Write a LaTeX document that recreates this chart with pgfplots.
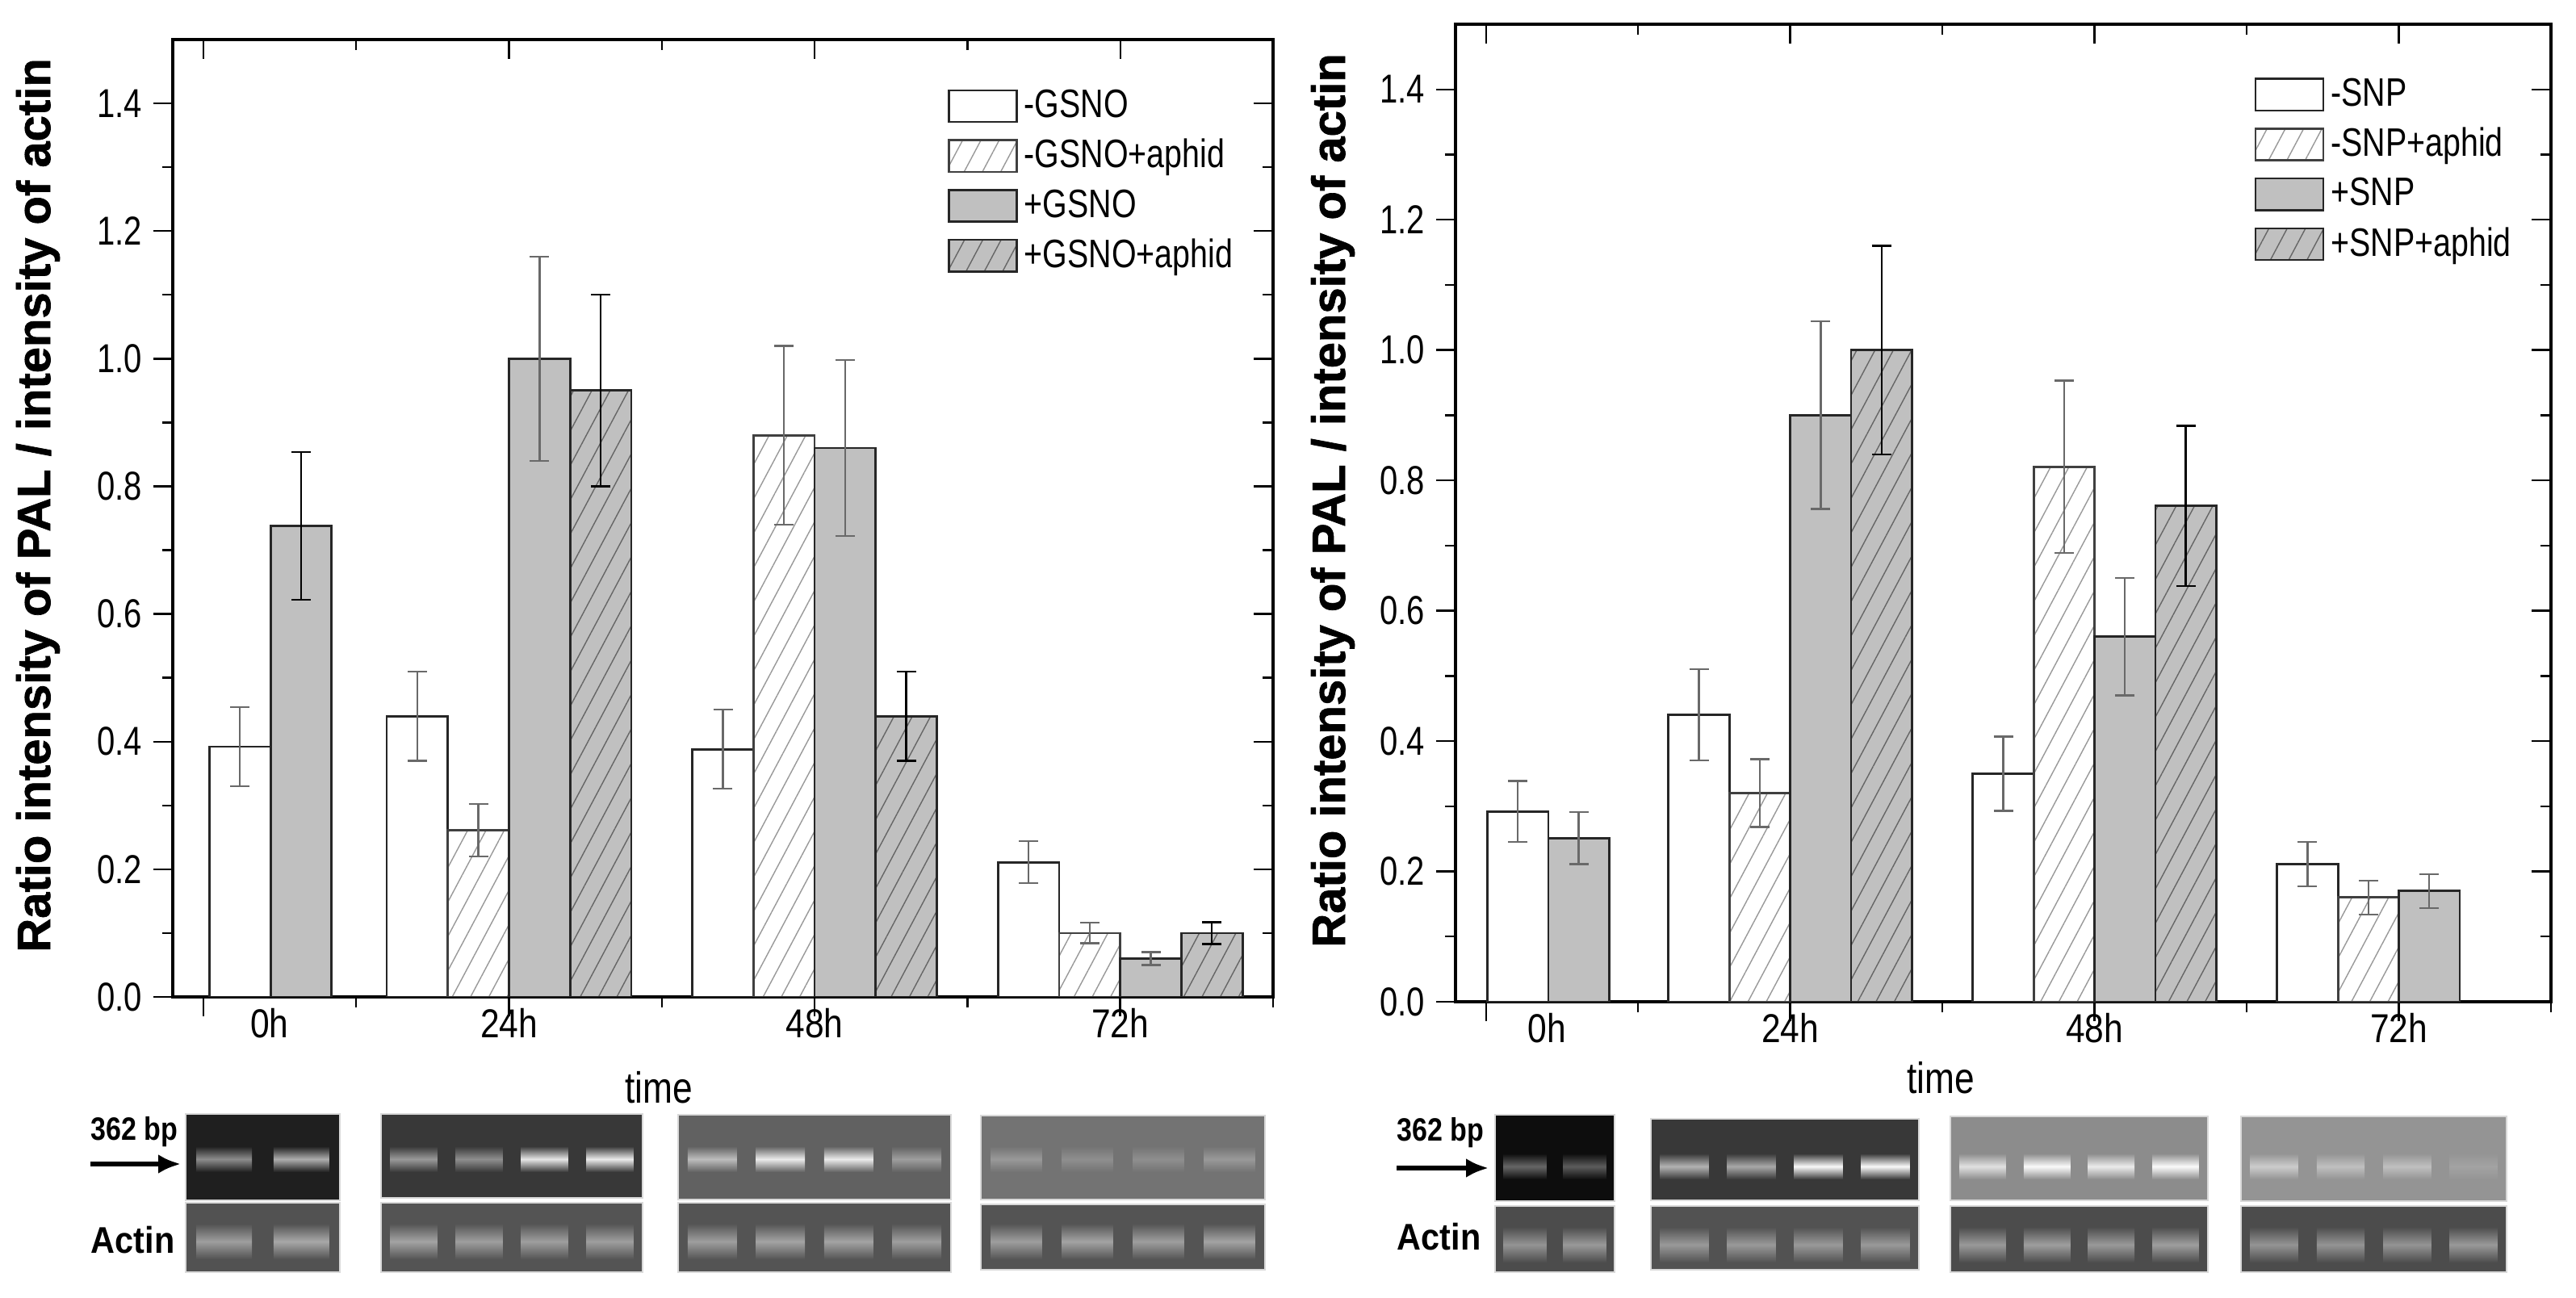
\documentclass[border=0pt]{standalone}
\usepackage{fontspec}
\setmainfont{Liberation Sans}
\newfontface\heavyfont{Liberation Sans Bold}[FakeBold=1.2]
\usepackage{pgfplots}
\pgfplotsset{compat=1.18}
\usetikzlibrary{patterns.meta,arrows.meta}
\definecolor{silver}{RGB}{192,192,192}
\definecolor{errgray}{RGB}{105,105,105}

\pgfplotsset{
  /pgf/number format/assume math mode=true,
  common/.style={
    scale only axis, anchor=south west,
    xmin=-0.1, xmax=3.5, ymin=0, ymax=1.5,
    xtick={0,1,2,3}, minor xtick={0.5,1.5,2.5,3.5},
    ytick={0,0.2,0.4,0.6,0.8,1.0,1.2,1.4}, minor ytick={0.1,0.3,0.5,0.7,0.9,1.1,1.3},
    major tick length=6pt, minor tick length=3.3pt,
    tick style={black, line width=0.6pt},
  },
  main/.style={
    common,
    ybar, bar shift=0pt, bar width=0.2,
    axis line style={line width=1.1pt},
    tick align=outside, tick pos=left,
    xticklabels={},
    yticklabel={\scalebox{0.8}[1]{\pgfmathprintnumber[fixed,fixed zerofill,precision=1]{\tick}}},
    tick label style={font=\fontsize{12.5}{14}\selectfont},
    extra x ticks={0.216,1,2,3},
    extra x tick style={major tick length=0pt},
    extra x tick labels={\scalebox{0.85}[1]{0h},\scalebox{0.85}[1]{24h},\scalebox{0.85}[1]{48h},\scalebox{0.85}[1]{72h}},
    ylabel={Ratio intensity of PAL / intensity of actin},
    ylabel style={anchor=center, font=\heavyfont\fontsize{14.5}{16}\selectfont},
    xlabel={\scalebox{0.82}[1]{time}},
    xlabel style={anchor=center, font=\fontsize{13.5}{15}\selectfont},
    legend style={anchor=north west, draw=none, fill=none, inner sep=0pt, row sep=1.2pt,
      font=\fontsize{12.3}{13}\selectfont, cells={anchor=west}},
    legend image code/.code={\draw[#1, line width=0.6pt] (0pt,-4.9pt) rectangle (21pt,4.9pt);},
    error bars/y dir=both, error bars/y explicit,
    error bars/error mark options={rotate=90, mark size=3pt, line width=0.6pt},
  },
  overlay/.style={
    common,
    axis line style={draw=none},
    tick align=inside, xtick pos=right, ytick pos=right,
    xticklabels={}, yticklabels={},
  },
  bw/.style={fill=white, draw=black!85, line width=0.7pt},
  bh/.style={fill=white, draw=black!75, line width=0.7pt,
    postaction={pattern={Lines[angle=62,distance=5pt,line width=0.35pt]}, pattern color=black!40}},
  bg/.style={fill=silver, draw=black!85, line width=0.7pt},
  bgh/.style={fill=silver, draw=black!85, line width=0.7pt,
    postaction={pattern={Lines[angle=62,distance=5pt,line width=0.35pt]}, pattern color=black!60}},
  egray/.style={error bars/error bar style={color=errgray, line width=0.6pt}},
  eblack/.style={error bars/error bar style={color=black, line width=0.6pt}},
}

% gel box: #1 x1, #2 x2, #3 y1, #4 y2, #5 bg white pct, #6 band centre y, #7 lane list, #8 lanes, #9 band half height
\newcommand{\gelbox}[9]{%
  \fill[white!#5!black] (#1,#3) rectangle (#2,#4);
  \foreach \v [count=\i] in {#7} {%
    \pgfmathsetmacro\lw{(#2-#1)/#8}%
    \pgfmathsetmacro\cx{#1+(\i-0.5)*\lw}%
    \shade[top color=white!#5!black, bottom color=white!#5!black, middle color=white!\v!black]
      ({\cx-0.36*\lw},{#6-#9}) rectangle ({\cx+0.36*\lw},{#6+#9});
  }%
  \draw[black!15, line width=0.5pt] (#1,#3) rectangle (#2,#4);
}

\begin{document}
\begin{tikzpicture}
\useasboundingbox (0,0) rectangle (797.75pt,401.75pt);

% ---------------- left chart ----------------
\begin{axis}[main, at={(53.5pt,93pt)}, width=340.75pt, height=296.5pt,
  ylabel style={at={(axis description cs:-0.1225,0.5135)}},
  xlabel style={at={(axis description cs:0.4417,-0.0944)}},
  legend style={at={(axis description cs:0.704,0.955)}}]
\addplot[bw, egray] coordinates {(0.12,0.392) +- (0,0.062) (0.7,0.44) +- (0,0.07) (1.7,0.388) +- (0,0.062) (2.7,0.211) +- (0,0.033)};
\addlegendentry{\scalebox{0.8}[1]{-GSNO}}
\addplot[bh, egray] coordinates {(0.9,0.261) +- (0,0.041) (1.9,0.88) +- (0,0.14) (2.9,0.10) +- (0,0.016)};
\addlegendentry{\scalebox{0.8}[1]{-GSNO+aphid}}
\addplot[bg, eblack, forget plot] coordinates {(0.32,0.738) +- (0,0.116)};
\addplot[bg, egray] coordinates {(1.1,1.0) +- (0,0.16) (2.1,0.86) +- (0,0.138) (3.1,0.06) +- (0,0.01)};
\addlegendentry{\scalebox{0.8}[1]{+GSNO}}
\addplot[bgh, eblack] coordinates {(1.3,0.95) +- (0,0.15) (2.3,0.44) +- (0,0.07) (3.3,0.10) +- (0,0.017)};
\addlegendentry{\scalebox{0.8}[1]{+GSNO+aphid}}
\end{axis}
\begin{axis}[overlay, at={(53.5pt,93pt)}, width=340.75pt, height=296.5pt]
\end{axis}

% ---------------- right chart ----------------
\begin{axis}[main, at={(450.75pt,91.5pt)}, width=339.25pt, height=302.75pt,
  extra x ticks={0.2,1,2,3},
  ylabel style={at={(axis description cs:-0.112,0.5128)}},
  xlabel style={at={(axis description cs:0.4429,-0.0776)}},
  legend style={at={(axis description cs:0.729,0.952)}}]
\addplot[bw, egray] coordinates {(0.105,0.292) +- (0,0.047) (0.7,0.44) +- (0,0.07) (1.7,0.35) +- (0,0.057) (2.7,0.211) +- (0,0.034)};
\addlegendentry{\scalebox{0.8}[1]{-SNP}}
\addplot[bh, egray] coordinates {(0.9,0.32) +- (0,0.052) (1.9,0.821) +- (0,0.132) (2.9,0.16) +- (0,0.026)};
\addlegendentry{\scalebox{0.8}[1]{-SNP+aphid}}
\addplot[bg, egray] coordinates {(0.305,0.251) +- (0,0.04) (1.1,0.90) +- (0,0.144) (2.1,0.56) +- (0,0.09) (3.1,0.17) +- (0,0.026)};
\addlegendentry{\scalebox{0.8}[1]{+SNP}}
\addplot[bgh, eblack] coordinates {(1.3,1.0) +- (0,0.16) (2.3,0.761) +- (0,0.123)};
\addlegendentry{\scalebox{0.8}[1]{+SNP+aphid}}
\end{axis}
\begin{axis}[overlay, at={(450.75pt,91.5pt)}, width=339.25pt, height=302.75pt]
\end{axis}

% ---------------- gel images ----------------
\begin{scope}[x=0.25pt, y=-0.25pt, shift={(0pt,401.75pt)}]
  % left, PAL
  \gelbox{230}{421}{1380}{1487}{12}{1436}{55,68}{2}{16}
  \gelbox{472}{796}{1380}{1484}{22}{1436}{60,56,90,92}{4}{16}
  \gelbox{840}{1178}{1381}{1486}{38}{1436}{74,92,92,62}{4}{16}
  \gelbox{1215}{1567}{1382}{1486}{45}{1436}{60,56,56,60}{4}{16}
  % left, actin
  \gelbox{230}{421}{1490}{1576}{32}{1538}{62,66}{2}{22}
  \gelbox{472}{796}{1490}{1576}{33}{1538}{64,62,62,62}{4}{22}
  \gelbox{840}{1178}{1490}{1576}{33}{1538}{62,64,64,62}{4}{22}
  \gelbox{1215}{1567}{1492}{1573}{33}{1538}{62,64,62,64}{4}{22}
  % right, PAL
  \gelbox{1852}{2000}{1381}{1488}{5}{1445}{40,36}{2}{16}
  \gelbox{2045}{2377}{1386}{1487}{22}{1445}{70,66,98,98}{4}{16}
  \gelbox{2416}{2735}{1383}{1487}{55}{1445}{88,98,92,98}{4}{16}
  \gelbox{2776}{3105}{1383}{1488}{58}{1445}{80,75,75,64}{4}{16}
  % right, actin
  \gelbox{1852}{2000}{1494}{1576}{30}{1542}{58,60}{2}{22}
  \gelbox{2045}{2377}{1494}{1573}{32}{1542}{60,60,60,60}{4}{22}
  \gelbox{2416}{2735}{1494}{1576}{30}{1542}{60,62,60,62}{4}{22}
  \gelbox{2776}{3105}{1494}{1576}{30}{1542}{58,58,58,60}{4}{22}
  % labels
  \node[anchor=west, inner sep=0pt, font=\bfseries\fontsize{10}{11}\selectfont] at (112,1402) {\scalebox{0.85}[1]{362 bp}};
  \draw[line width=1.6pt, -{Latex[length=7pt,width=6pt]}] (112,1442) -- (224,1442);
  \node[anchor=west, inner sep=0pt, font=\bfseries\fontsize{11.5}{12}\selectfont] at (112,1536) {\scalebox{0.9}[1]{Actin}};
  \node[anchor=west, inner sep=0pt, font=\bfseries\fontsize{10}{11}\selectfont] at (1730,1403) {\scalebox{0.85}[1]{362 bp}};
  \draw[line width=1.6pt, -{Latex[length=7pt,width=6pt]}] (1730,1447) -- (1844,1447);
  \node[anchor=west, inner sep=0pt, font=\bfseries\fontsize{11.5}{12}\selectfont] at (1730,1532) {\scalebox{0.9}[1]{Actin}};
\end{scope}
\end{tikzpicture}
\end{document}
